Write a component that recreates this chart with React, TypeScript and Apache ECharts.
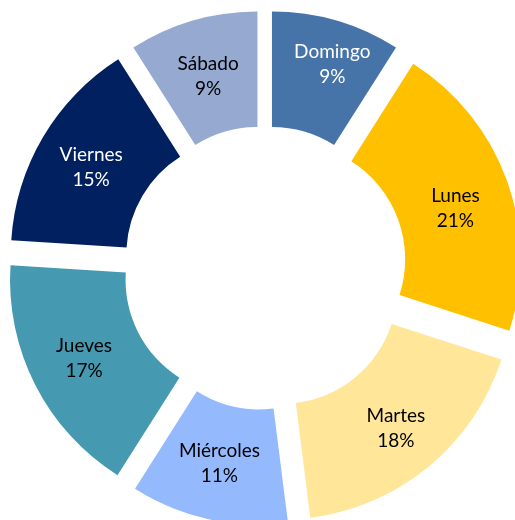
import React, { useEffect, useRef } from "react";
import * as echarts from "echarts";

const days = ["Domingo", "Lunes", "Martes", "Miércoles", "Jueves", "Viernes", "Sábado"];
const shares = [9, 21, 18, 11, 17, 15, 9];
const colors = ["#4674A9", "#FFC000", "#FFE699", "#95B9FD", "#4599B0", "#002060", "#95A9D1"];
const labelColors = ["#FFFFFF", "#000000", "#000000", "#000000", "#000000", "#FFFFFF", "#000000"];
const labelOffsets = [[11, -10], [0, 8], [2, 3], [-1, -4], [0, -3], [1, 1], [0, 2]];

export default function App() {
  const ref = useRef<HTMLDivElement>(null);
  useEffect(() => {
    if (!ref.current) return;
    const chart = echarts.init(ref.current, undefined, { renderer: "svg" });
    const data = days.map((d, i) => ({
      name: d,
      value: shares[i],
      selected: true,
      itemStyle: { color: colors[i], borderWidth: 0 },
      label: { color: labelColors[i], offset: labelOffsets[i] },
      select: {
        itemStyle: { color: colors[i], borderWidth: 0 },
        label: { color: labelColors[i], offset: labelOffsets[i] },
      },
    }));
    chart.setOption({
      animation: false,
      series: [
        {
          type: "pie",
          center: [264.7, 268],
          radius: [116, 231.5],
          startAngle: 90,
          clockwise: true,
          selectedMode: "multiple",
          selectedOffset: 26,
          avoidLabelOverlap: false,
          emphasis: { disabled: true },
          label: {
            show: true,
            position: "inside",
            formatter: "{b}\n{d}%",
            fontFamily: "Lato",
            fontSize: 19,
            lineHeight: 25,
            align: "center",
          },
          labelLine: { show: false },
          data,
        },
      ],
    });
    return () => chart.dispose();
  }, []);
  return (
    <div
      ref={ref}
      style={{ position: "fixed", left: 0, top: 0, width: 515, height: 520 }}
    />
  );
}
